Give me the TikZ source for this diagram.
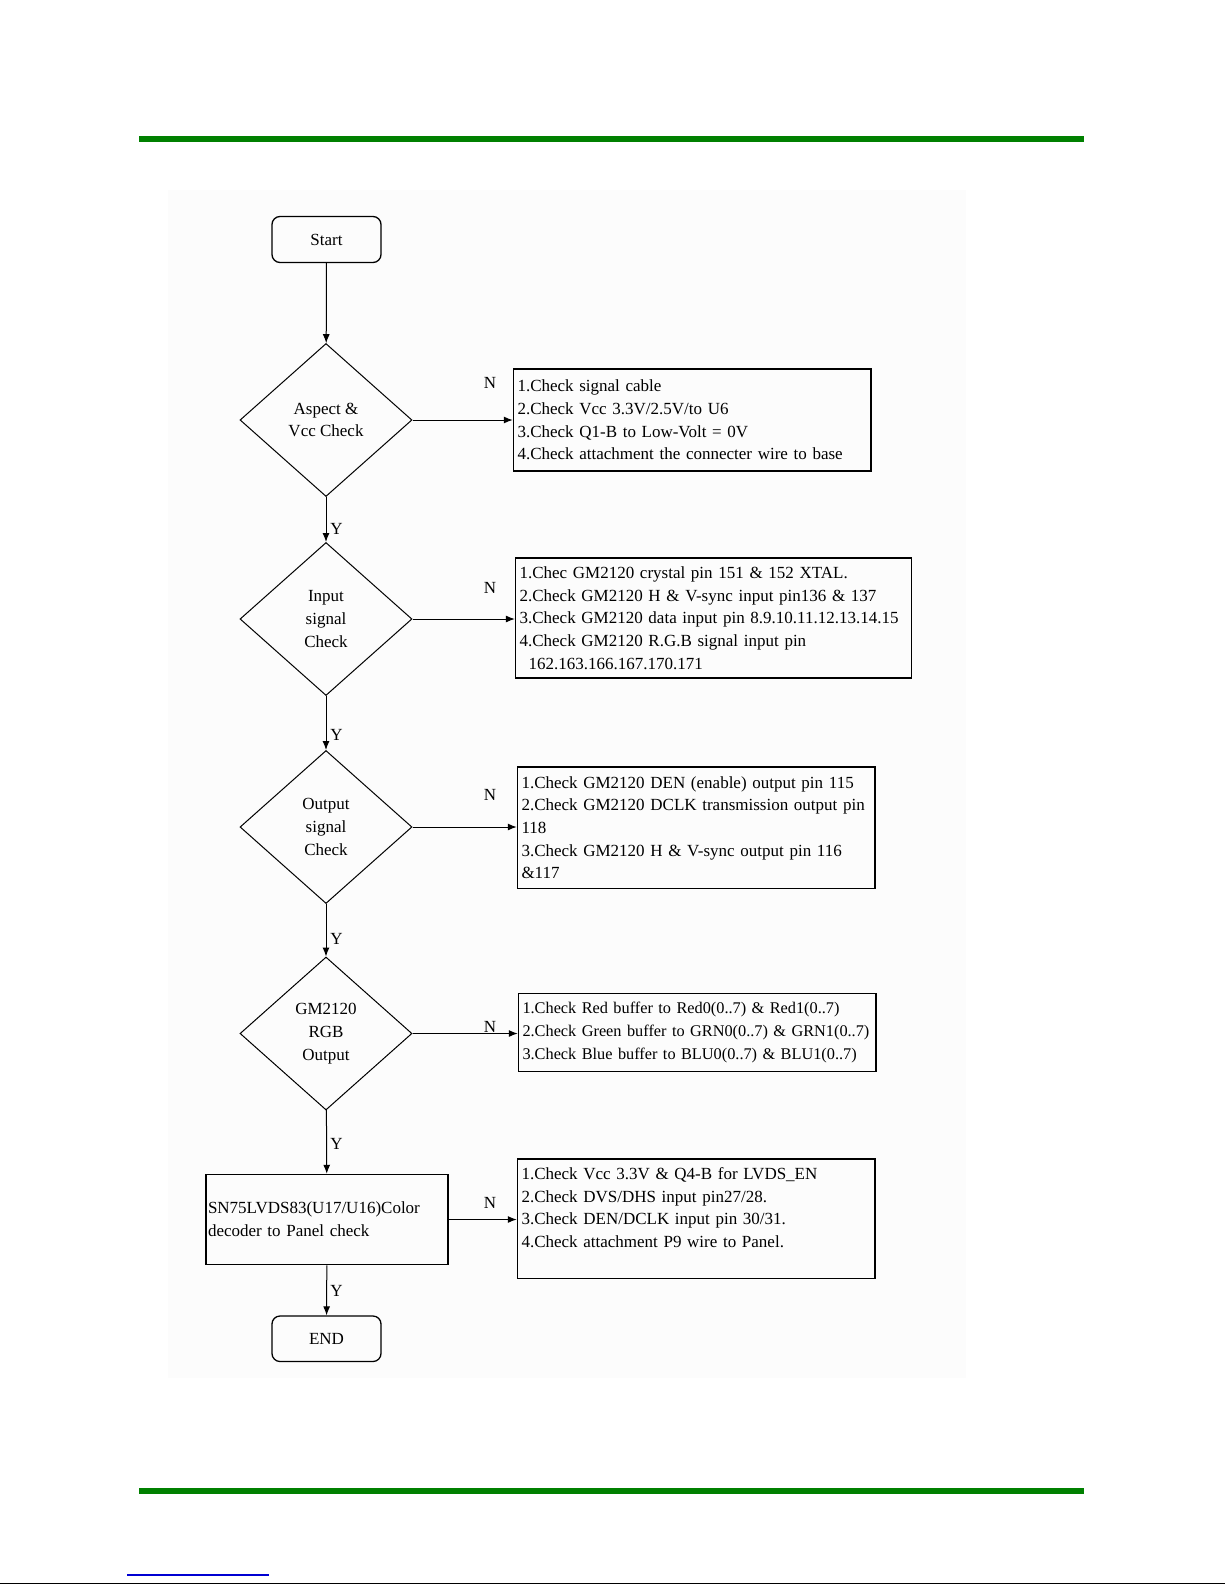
\documentclass[tikz,border=0pt]{standalone}
\usepackage{fontspec}
\setmainfont{Liberation Serif}
\usetikzlibrary{arrows.meta,shapes.geometric}
\definecolor{hdrgreen}{RGB}{0,128,0}
\definecolor{linkblue}{RGB}{0,0,210}
\definecolor{panelbg}{RGB}{252,252,252}
\tikzset{
  txt/.style={font=\fontsize{17}{22.7}\selectfont},
  term/.style={txt, draw, line width=1.3, rounded corners=8, minimum width=109, minimum height=46, inner sep=0},
  decision/.style={txt, draw, line width=1, diamond, minimum width=172, minimum height=153, inner sep=0, align=center},
  notebox/.style={txt, draw, line width=1.5, rectangle, align=left, inner xsep=4, inner ysep=2},
  procbox/.style={txt, draw, line width=1.5, rectangle, align=left, inner xsep=2, inner ysep=2},
  flow/.style={line width=1, -{Latex[length=9,width=7]}},
  lbl/.style={txt, inner sep=0},
}
\begin{document}
\begin{tikzpicture}[x=1pt,y=-1pt]
\useasboundingbox (0,0) rectangle (1225,1585);
% page decoration
\fill[hdrgreen] (139,135.5) rectangle (1083.5,141.5);
\fill[hdrgreen] (139,1488) rectangle (1083.5,1494);
\draw[linkblue, line width=1.2] (127,1575) -- (269,1575);
\draw[black, line width=1.2] (0,1583.5) -- (1225,1583.5);
\fill[panelbg] (168,190) rectangle (966,1378);

% main column
\node[term] (start) at (326.5,239.5) {Start};
\node[decision] (d1) at (326,420) {Aspect \&\\Vcc Check};
\node[decision] (d2) at (326,619) {Input\\signal\\Check};
\node[decision] (d3) at (326,827) {Output\\signal\\Check};
\node[decision] (d4) at (326,1033.5) {GM2120\\RGB\\Output};
\node[procbox, minimum width=242, minimum height=90, text width=238] (p5) at (327,1219.5)
  {SN75LVDS83(U17/U16)Color\\decoder to Panel check};
\node[term, minimum height=45.5] (stop) at (326.5,1338.75) {END};

% note boxes
\node[notebox, minimum width=357.5, minimum height=102, text width=349.5] (b1) at (692.25,420)
  {1.Check signal cable\\2.Check Vcc 3.3V/2.5V/to U6\\3.Check Q1-B to Low-Volt = 0V\\\mbox{4.Check attachment the connecter wire to base}};
\node[notebox, minimum width=396, minimum height=120, text width=388] (b2) at (713.6,618)
  {1.Chec GM2120 crystal pin 151 \& 152 XTAL.\\2.Check GM2120 H \& V-sync input pin136 \& 137\\\mbox{3.Check GM2120 data input pin 8.9.10.11.12.13.14.15}\\4.Check GM2120 R.G.B signal input pin\\\hspace*{9pt}162.163.166.167.170.171};
\node[notebox, minimum width=357.5, minimum height=121.5, text width=349.5] (b3) at (696.25,827.75)
  {1.Check GM2120 DEN (enable) output pin 115\\\mbox{2.Check GM2120 DCLK transmission output pin}\\118\\3.Check GM2120 H \& V-sync output pin 116\\\&117};
\node[notebox, minimum width=357.5, minimum height=78, text width=349.5, font=\fontsize{16.3}{22.7}\selectfont] (b4) at (697.25,1032.5)
  {\mbox{1.Check Red buffer to Red0(0..7) \& Red1(0..7)}\\\mbox{2.Check Green buffer to GRN0(0..7) \& GRN1(0..7)}\\\mbox{3.Check Blue buffer to BLU0(0..7) \& BLU1(0..7)}};
\node[notebox, minimum width=357.5, minimum height=119.5, text width=349.5] (b5) at (696.25,1218.75)
  {1.Check Vcc 3.3V \& Q4-B for LVDS\_EN\\2.Check DVS/DHS input pin27/28.\\3.Check DEN/DCLK input pin 30/31.\\4.Check attachment P9 wire to Panel.\\\mbox{}};

% vertical flow
\draw[flow] (start) -- (d1);
\draw[flow] (d1) -- (d2);
\draw[flow] (d2) -- (d3);
\draw[flow] (d3) -- (d4);
\draw[flow] (d4) -- (p5);
\draw[flow] (p5) -- (stop);

% N branches
\draw[flow] (d1.east) -- (d1.east -| b1.west);
\draw[flow] (d2.east) -- (d2.east -| b2.west);
\draw[flow] (d3.east) -- (d3.east -| b3.west);
\draw[flow] (d4.east) -- (d4.east -| b4.west);
\draw[flow] (p5.east) -- (p5.east -| b5.west);

% labels
\node[lbl] (n1) at (490,383) {N};
\node[lbl] (n2) at (490,588) {N};
\node[lbl] (n3) at (490,794.5) {N};
\node[lbl] (n4) at (490,1027) {N};
\node[lbl] (n5) at (490,1203) {N};
\node[lbl] (y1) at (336.5,528.6) {Y};
\node[lbl] (y2) at (336.5,735) {Y};
\node[lbl] (y3) at (336.5,939) {Y};
\node[lbl] (y4) at (336.5,1144) {Y};
\node[lbl] (y5) at (336.5,1291) {Y};
\end{tikzpicture}
\end{document}
